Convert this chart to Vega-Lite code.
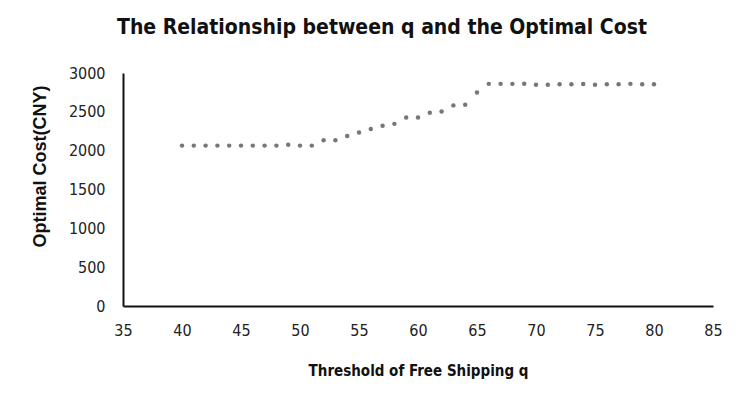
{
  "$schema": "https://vega.github.io/schema/vega-lite/v6.json",
  "autosize": "none",
  "width": 590,
  "height": 233,
  "padding": {"left": 123, "top": 73, "right": 32, "bottom": 105},
  "background": "white",
  "title": {
    "text": "The Relationship between q and the Optimal Cost",
    "font": "DejaVu Sans Condensed, Roboto",
    "fontSize": 21,
    "fontWeight": "bold",
    "color": "#111",
    "anchor": "middle",
    "dx": -36,
    "offset": 27
  },
  "data": {
    "values": [
      {"q": 40, "cost": 2065}, {"q": 41, "cost": 2065}, {"q": 42, "cost": 2065},
      {"q": 43, "cost": 2065}, {"q": 44, "cost": 2065}, {"q": 45, "cost": 2065},
      {"q": 46, "cost": 2065}, {"q": 47, "cost": 2065}, {"q": 48, "cost": 2065},
      {"q": 49, "cost": 2075}, {"q": 50, "cost": 2065}, {"q": 51, "cost": 2065},
      {"q": 52, "cost": 2135}, {"q": 53, "cost": 2135}, {"q": 54, "cost": 2190},
      {"q": 55, "cost": 2235}, {"q": 56, "cost": 2280}, {"q": 57, "cost": 2320},
      {"q": 58, "cost": 2345}, {"q": 59, "cost": 2428}, {"q": 60, "cost": 2428},
      {"q": 61, "cost": 2488}, {"q": 62, "cost": 2505}, {"q": 63, "cost": 2583},
      {"q": 64, "cost": 2590}, {"q": 65, "cost": 2750}, {"q": 66, "cost": 2860},
      {"q": 67, "cost": 2860}, {"q": 68, "cost": 2860}, {"q": 69, "cost": 2862},
      {"q": 70, "cost": 2850}, {"q": 71, "cost": 2848}, {"q": 72, "cost": 2855},
      {"q": 73, "cost": 2855}, {"q": 74, "cost": 2858}, {"q": 75, "cost": 2848},
      {"q": 76, "cost": 2855}, {"q": 77, "cost": 2855}, {"q": 78, "cost": 2860},
      {"q": 79, "cost": 2855}, {"q": 80, "cost": 2855}
    ]
  },
  "mark": {"type": "point", "filled": true, "size": 20, "color": "#777777", "opacity": 1},
  "encoding": {
    "x": {
      "field": "q",
      "type": "quantitative",
      "scale": {"domain": [35, 85], "nice": false, "zero": false},
      "axis": {
        "title": "Threshold of Free Shipping q",
        "values": [35, 40, 45, 50, 55, 60, 65, 70, 75, 80, 85],
        "format": "d",
        "grid": false,
        "ticks": false,
        "domainColor": "#111",
        "domainWidth": 2,
        "labelFont": "DejaVu Sans Condensed, Roboto",
        "labelFontSize": 16,
        "labelColor": "#222",
        "labelPadding": 16,
        "labelFlush": false,
        "titleFont": "DejaVu Sans Condensed, Roboto",
        "titleFontSize": 15,
        "titleFontWeight": "bold",
        "titleColor": "#111",
        "titleY": 64,
        "titleBaseline": "middle"
      }
    },
    "y": {
      "field": "cost",
      "type": "quantitative",
      "scale": {"domain": [0, 3000], "nice": false},
      "axis": {
        "title": "Optimal Cost(CNY)",
        "values": [0, 500, 1000, 1500, 2000, 2500, 3000],
        "format": "d",
        "grid": false,
        "ticks": false,
        "domainColor": "#111",
        "domainWidth": 2,
        "labelFont": "DejaVu Sans Condensed, Roboto",
        "labelFontSize": 16,
        "labelColor": "#222",
        "labelPadding": 18,
        "labelFlush": false,
        "titleFont": "Liberation Sans, Arial",
        "titleFontSize": 18,
        "titleFontWeight": "bold",
        "titleColor": "#111",
        "titleX": -83,
        "titleY": 93,
        "titleAlign": "center",
        "titleBaseline": "middle",
        "titleAngle": -90
      }
    }
  },
  "config": {
    "view": {"stroke": null}
  }
}
